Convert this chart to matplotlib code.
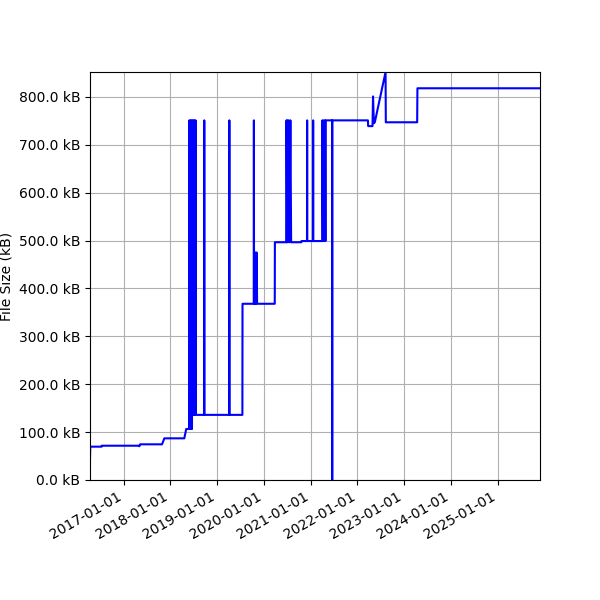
import matplotlib
matplotlib.use("Agg")
import matplotlib.pyplot as plt
import matplotlib.dates as mdates
from matplotlib.ticker import FuncFormatter
import pandas as pd

# file size history (kB)
dates = [
    "2016-04-13", "2016-04-15", "2016-07-13", "2016-07-14", "2017-05-01", "2017-05-04",
    "2017-05-10", "2017-10-28", "2017-11-15", "2018-04-20", "2018-05-05", "2018-05-28",
    "2018-05-30", "2018-06-03", "2018-06-07", "2018-06-11", "2018-06-15", "2018-06-19",
    "2018-06-23", "2018-06-27", "2018-07-01", "2018-07-05", "2018-07-09", "2018-07-13",
    "2018-07-17", "2018-07-19", "2018-09-22", "2018-09-23", "2018-09-24", "2019-04-06",
    "2019-04-07", "2019-04-08", "2019-07-18", "2019-07-19", "2019-10-15", "2019-10-16",
    "2019-10-17", "2019-10-21", "2019-10-25", "2019-10-29", "2019-11-02", "2019-11-06",
    "2019-11-10", "2020-03-27", "2020-03-28", "2020-06-26", "2020-06-27", "2020-06-30",
    "2020-07-04", "2020-07-08", "2020-07-14", "2020-07-20", "2020-07-27", "2020-08-02",
    "2020-10-21", "2020-10-22", "2020-12-04", "2020-12-05", "2020-12-06", "2021-01-20",
    "2021-01-21", "2021-01-22", "2021-04-02", "2021-04-03", "2021-04-08", "2021-04-13",
    "2021-04-18", "2021-04-23", "2021-04-27", "2021-04-30", "2021-06-18", "2021-06-19",
    "2021-06-20", "2022-03-25", "2022-03-27", "2022-04-30", "2022-05-04", "2022-05-11",
    "2022-05-18", "2022-08-10", "2022-08-12", "2023-04-14", "2023-04-16", "2025-11-29",
]
sizes = [
    45, 69.6, 69.6, 71.6, 71.6, 70.5,
    74.5, 74.5, 87, 87, 106.5, 106.5,
    751, 106.5, 751, 106.5, 751, 106.5,
    751, 136, 751, 136, 751, 136,
    751, 136, 136, 751, 136, 136,
    751, 136, 136, 368, 368, 751,
    368, 475, 368, 475, 368, 475,
    368, 368, 496.5, 496.5, 751, 496.5,
    751, 496.5, 751, 496.5, 751, 496.5,
    496.5, 499, 499, 751, 499, 499,
    751, 499, 499, 751, 499, 751,
    499, 751, 499, 751, 751, 0,
    751, 751, 739, 739, 801, 745,
    747, 852, 747, 747, 818, 818,
]

x = pd.to_datetime(dates)

fig, ax = plt.subplots(figsize=(6, 6), dpi=100)
ax.plot(x, sizes, color="blue", linewidth=1.5)

ax.set_xlim(x.min(), x.max())
ax.set_ylim(min(sizes), max(sizes))
ax.yaxis.set_major_formatter(FuncFormatter(lambda v, pos: f"{v:.1f} kB"))
ax.xaxis.set_major_locator(mdates.YearLocator())
ax.xaxis.set_major_formatter(mdates.DateFormatter("%Y-%m-%d"))
ax.set_ylabel("File Size (kB)")
ax.grid(True)

fig.autofmt_xdate()
fig.subplots_adjust(left=0.15)
fig.savefig("out.png")
